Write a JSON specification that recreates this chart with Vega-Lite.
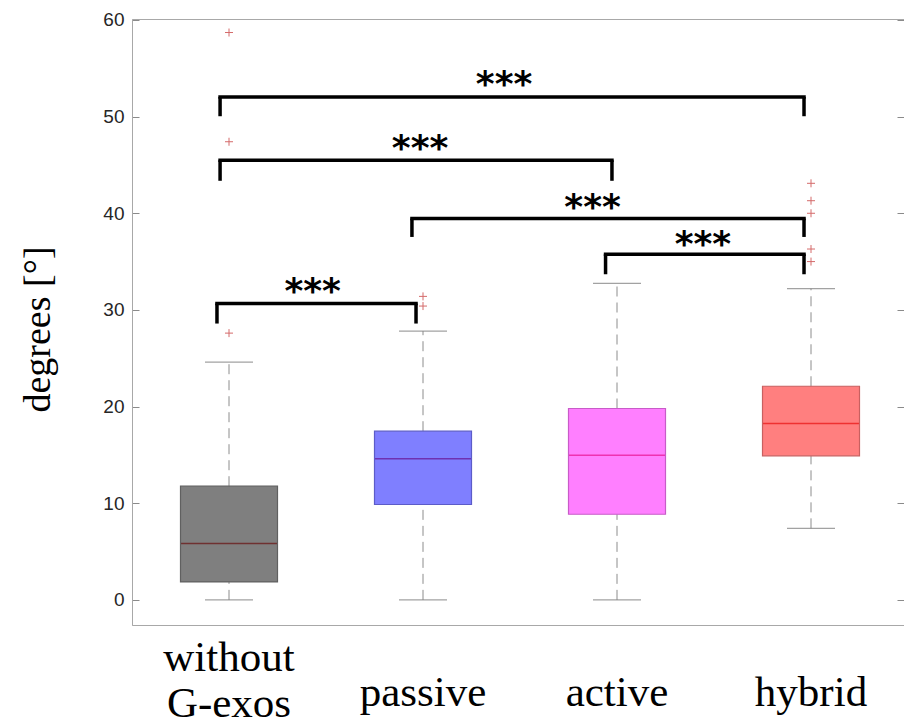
{
  "$schema": "https://vega.github.io/schema/vega-lite/v6.json",
  "width": 772,
  "height": 606,
  "autosize": "none",
  "padding": {"left": 132, "top": 19, "right": 0, "bottom": 101},
  "background": "white",
  "config": {
    "view": {"stroke": "#a8a8a8", "strokeWidth": 1},
    "axis": {"grid": false}
  },
  "datasets": {
    "boxes": [
      {"group": "without G-exos", "lower": 0, "q1": 1.86, "median": 5.83, "q3": 11.76, "upper": 24.6},
      {"group": "passive", "lower": 0, "q1": 9.87, "median": 14.6, "q3": 17.45, "upper": 27.8},
      {"group": "active", "lower": 0, "q1": 8.86, "median": 14.96, "q3": 19.8, "upper": 32.75},
      {"group": "hybrid", "lower": 7.4, "q1": 14.9, "median": 18.24, "q3": 22.1, "upper": 32.2}
    ],
    "outliers": [
      {"group": "without G-exos", "value": 27.6},
      {"group": "without G-exos", "value": 47.4},
      {"group": "without G-exos", "value": 58.7},
      {"group": "passive", "value": 31.4},
      {"group": "passive", "value": 30.4},
      {"group": "hybrid", "value": 43.1},
      {"group": "hybrid", "value": 41.3},
      {"group": "hybrid", "value": 40.0},
      {"group": "hybrid", "value": 36.3},
      {"group": "hybrid", "value": 35.0}
    ],
    "brackets": [
      {"x1": 0.454, "x2": 3.464, "top": 52.03, "bottom": 50.04, "tx": 1.918, "ty": 53.86, "label": "***"},
      {"x1": 0.454, "x2": 2.474, "top": 45.49, "bottom": 43.36, "tx": 1.485, "ty": 47.29, "label": "***"},
      {"x1": 1.443, "x2": 3.464, "top": 39.45, "bottom": 37.55, "tx": 2.374, "ty": 41.17, "label": "***"},
      {"x1": 2.441, "x2": 3.464, "top": 35.76, "bottom": 33.69, "tx": 2.943, "ty": 37.38, "label": "***"},
      {"x1": 0.438, "x2": 1.464, "top": 30.66, "bottom": 28.59, "tx": 0.931, "ty": 32.45, "label": "***"}
    ]
  },
  "layer": [
    {
      "layer": [
        {
          "data": {"name": "boxes"},
          "mark": {"type": "rule", "color": "#8c8c8c", "strokeWidth": 1, "strokeDash": [10, 6]},
          "encoding": {
            "x": {"field": "group", "type": "nominal", "sort": null,
              "scale": {"domain": ["without G-exos", "passive", "active", "hybrid"], "range": [0, 776], "paddingInner": 0, "paddingOuter": 0},
              "title": null,
              "axis": {"ticks": false, "domain": false, "labelAngle": 0, "labelFont": "Liberation Serif", "labelFontSize": 43, "labelColor": "#000000", "labelBaseline": "alphabetic", "labelLineHeight": 46,
                "labelPadding": {"condition": {"test": "datum.value == 'without G-exos'", "value": 45}, "value": 80},
                "labelExpr": "datum.value == 'without G-exos' ? ['without', 'G-exos'] : datum.value"}},
            "y": {"field": "q3", "type": "quantitative", "title": "degrees [°]",
              "scale": {"domain": [-2.6, 60.1], "nice": false, "zero": false},
              "axis": {"values": [0, 10, 20, 30, 40, 50, 60], "tickSize": -7, "tickColor": "#8a8a8a", "domainColor": "#a8a8a8", "labelFont": "Liberation Sans", "labelFontSize": 19, "labelColor": "#262626", "labelPadding": 15, "titleFont": "Liberation Serif", "titleFontSize": 38, "titleFontWeight": "normal", "titleColor": "#000000", "titleAngle": 270, "titleX": -94, "titleY": 310, "titleAlign": "center", "titleBaseline": "middle"}},
            "y2": {"field": "upper"}
          }
        },
        {
          "data": {"name": "boxes"},
          "mark": {"type": "rule", "color": "#8c8c8c", "strokeWidth": 1, "strokeDash": [10, 6]},
          "encoding": {
            "x": {"field": "group", "type": "nominal", "sort": null},
            "y": {"field": "lower", "type": "quantitative", "title": "degrees [°]"},
            "y2": {"field": "q1"}
          }
        },
        {
          "data": {"name": "boxes"},
          "mark": {"type": "tick", "color": "#7a7a7a", "size": 48, "thickness": 1.3, "orient": "horizontal"},
          "encoding": {
            "x": {"field": "group", "type": "nominal", "sort": null},
            "y": {"field": "upper", "type": "quantitative", "title": "degrees [°]"}
          }
        },
        {
          "data": {"name": "boxes"},
          "mark": {"type": "tick", "color": "#7a7a7a", "size": 48, "thickness": 1.3, "orient": "horizontal"},
          "encoding": {
            "x": {"field": "group", "type": "nominal", "sort": null},
            "y": {"field": "lower", "type": "quantitative", "title": "degrees [°]"}
          }
        },
        {
          "data": {"name": "boxes"},
          "mark": {"type": "tick", "color": "#d02020", "opacity": 0.7, "size": 97, "thickness": 1.5, "orient": "horizontal"},
          "encoding": {
            "x": {"field": "group", "type": "nominal", "sort": null},
            "y": {"field": "median", "type": "quantitative", "title": "degrees [°]"}
          }
        },
        {
          "data": {"name": "boxes"},
          "mark": {"type": "bar", "size": 97, "fillOpacity": 0.5, "strokeWidth": 1.2},
          "encoding": {
            "x": {"field": "group", "type": "nominal", "sort": null},
            "y": {"field": "q1", "type": "quantitative", "title": "degrees [°]"},
            "y2": {"field": "q3"},
            "fill": {"field": "group", "type": "nominal", "legend": null,
              "scale": {"domain": ["without G-exos", "passive", "active", "hybrid"], "range": ["#000000", "#0000ff", "#ff00ff", "#ff0000"]}},
            "stroke": {"field": "group", "type": "nominal", "legend": null,
              "scale": {"domain": ["without G-exos", "passive", "active", "hybrid"], "range": ["#606060", "#5c5cc8", "#c85cc8", "#c86060"]}}
          }
        },
        {
          "data": {"name": "outliers"},
          "mark": {"type": "point", "shape": "M-1,0L1,0M0,-1L0,1", "size": 64, "filled": false, "stroke": "#d46a6a", "strokeWidth": 1, "opacity": 1},
          "encoding": {
            "x": {"field": "group", "type": "nominal", "sort": null},
            "y": {"field": "value", "type": "quantitative", "title": "degrees [°]"}
          }
        }
      ]
    },
    {
      "data": {"name": "brackets"},
      "layer": [
        {
          "mark": {"type": "rule", "color": "#000000", "strokeWidth": 3.5, "strokeCap": "square"},
          "encoding": {
            "x": {"field": "x1", "type": "quantitative", "scale": {"domain": [0, 4], "range": [0, 776], "nice": false, "zero": false}, "axis": null},
            "x2": {"field": "x2"},
            "y": {"field": "top", "type": "quantitative", "title": null,
              "axis": {"orient": "right", "values": [0, 10, 20, 30, 40, 50, 60], "labels": false, "domain": false, "tickSize": -7, "tickColor": "#8a8a8a", "title": null}}
          }
        },
        {
          "mark": {"type": "rule", "color": "#000000", "strokeWidth": 3.5},
          "encoding": {
            "x": {"field": "x1", "type": "quantitative"},
            "y": {"field": "top", "type": "quantitative", "title": null},
            "y2": {"field": "bottom"}
          }
        },
        {
          "mark": {"type": "rule", "color": "#000000", "strokeWidth": 3.5},
          "encoding": {
            "x": {"field": "x2", "type": "quantitative"},
            "y": {"field": "top", "type": "quantitative", "title": null},
            "y2": {"field": "bottom"}
          }
        },
        {
          "mark": {"type": "text", "font": "DejaVu Sans", "fontWeight": "bold", "fontSize": 36, "color": "#000000", "baseline": "middle", "align": "center", "dy": 6},
          "encoding": {
            "x": {"field": "tx", "type": "quantitative"},
            "y": {"field": "ty", "type": "quantitative", "title": null},
            "text": {"field": "label"}
          }
        }
      ]
    }
  ],
  "resolve": {"scale": {"x": "independent"}, "axis": {"x": "independent", "y": "independent"}}
}
